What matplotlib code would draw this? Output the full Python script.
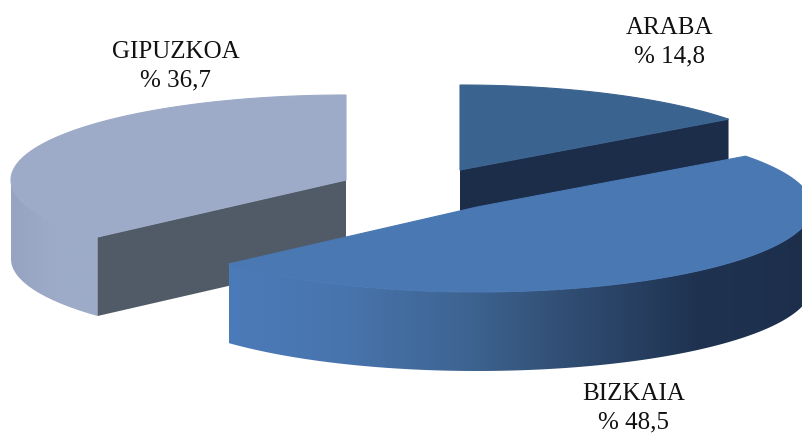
import numpy as np
import matplotlib
matplotlib.use("Agg")
import matplotlib.pyplot as plt
from matplotlib.patches import Polygon
from matplotlib.colors import LinearSegmentedColormap

# Datos del grafico
regions = ['ARABA', 'BIZKAIA', 'GIPUZKOA']
shares = [14.8, 48.5, 36.7]
share_labels = ['% 14,8', '% 48,5', '% 36,7']

# Geometria de la tarta en pixeles
rx, ry, depth = 335, 85, 79
centers = [(460, 170), (477, 207), (346, 180)]
label_pos = [(670, 42), (634, 408), (176, 66)]

top_colors = ['#3a6390', '#4a78b3', '#9dabc8']
side_colors = ['#1b2d49', '#1b2d49', '#515b67']
# GIPUZKOA abajo, BIZKAIA encima de todo
layers = [4, 8, 1]


def arc(center, a0, a1, n=200):
	# angulos en grados desde las 12, sentido horario
	t = np.radians(np.linspace(a0, a1, n))
	return np.column_stack([center[0] + rx * np.sin(t), center[1] - ry * np.cos(t)])


def gradient_wall(ax, pts, colors, x0, x1, z):
	# pared exterior con degradado horizontal
	cmap = LinearSegmentedColormap.from_list('wall', colors)
	grad = np.linspace(0, 1, 256).reshape(1, -1)
	im = ax.imshow(grad, cmap=cmap, extent=[x0, x1, 437, 0], aspect='auto', zorder=z)
	patch = Polygon(pts, closed=True, transform=ax.transData, facecolor='none', edgecolor='none')
	ax.add_patch(patch)
	im.set_clip_path(patch)


fig = plt.figure(figsize=(8.03, 4.37), dpi=100)
ax = fig.add_axes([0, 0, 1, 1])

angles = np.cumsum([0] + shares) / sum(shares) * 360
wall_colors = [
	['#1b2d49', '#1b2d49'],
	['#4b7bb8', '#4874ad', '#3e6592', '#2f4b70', '#1f3351', '#1c2e4a'],
	['#96a4c2', '#9dabc8', '#9dabc8'],
]
for i in range(3):
	c = centers[i]
	z = layers[i]
	a0, a1 = angles[i], angles[i + 1]
	edge = arc(c, a0, a1)
	apex = np.array([c])
	down = np.array([0, depth])

	# pared exterior, solo la parte frontal de la elipse
	w0, w1 = max(a0, 90), min(a1, 270)
	if w1 > w0:
		front = arc(c, w0, w1)
		outer = np.vstack([front, (front + down)[::-1]])
		gradient_wall(ax, outer, wall_colors[i], front[:, 0].min(), front[:, 0].max(), z)

	# paredes interiores visibles
	if i == 0:
		cut = np.vstack([apex, edge[-1:], edge[-1:] + down, apex + down])
		ax.add_patch(Polygon(cut, closed=True, fc=side_colors[i], ec='none', zorder=z + 0.5))
	if i == 2:
		cut = np.vstack([edge[:1], apex, apex + down, edge[:1] + down])
		ax.add_patch(Polygon(cut, closed=True, fc=side_colors[i], ec='none', zorder=z + 0.5))

	# cara superior, con borde fino para tapar la junta con la pared
	top = np.vstack([apex, edge])
	ax.add_patch(Polygon(top, closed=True, fc=top_colors[i], ec=top_colors[i], lw=0.8, zorder=z + 1))

	ax.text(label_pos[i][0], label_pos[i][1], regions[i] + '\n' + share_labels[i], ha='center', va='center',
			fontsize=18, family='Liberation Serif', color='#111111', linespacing=1.4, zorder=20)

ax.set_xlim(0, 803)
ax.set_ylim(437, 0)
ax.axis('off')

fig.savefig('out.png', dpi=100)
